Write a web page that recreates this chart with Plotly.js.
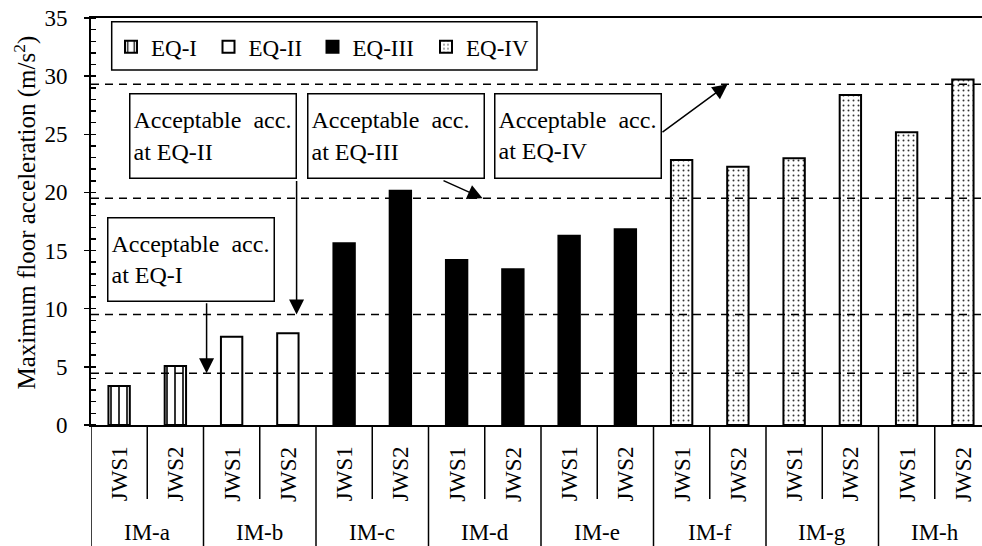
<!DOCTYPE html>
<html><head><meta charset="utf-8">
<script src="https://cdn.plot.ly/plotly-3.0.1.min.js"></script>
<style>html,body{margin:0;padding:0;background:#fff;overflow:hidden}</style>
</head><body><div id="chart" style="width:982px;height:546px"></div>
<script>
// ---- data ----
const groups = ['IM-a','IM-b','IM-c','IM-d','IM-e','IM-f','IM-g','IM-h'];
const subLabels = ['JWS1','JWS2'];
const jws1 = [3.35, 7.59, 15.62, 14.19, 16.28, 22.79, 22.93, 25.17];
const jws2 = [5.07, 7.88, 20.15, 13.39, 16.83, 22.21, 28.37, 29.72];
const groupEQ = ['EQ-I','EQ-II','EQ-III','EQ-III','EQ-III','EQ-IV','EQ-IV','EQ-IV'];
const eqNames = ['EQ-I','EQ-II','EQ-III','EQ-IV'];
const acceptable = [4.45, 9.5, 19.5, 29.3];   // acceptable acc. at EQ-I..IV
const boxLabels = ['Acceptable\u00a0 acc.<br>at EQ-I','Acceptable\u00a0 acc.<br>at EQ-II','Acceptable\u00a0 acc.<br>at EQ-III','Acceptable\u00a0 acc.<br>at EQ-IV'];
const yTitle = 'Maximum floor acceleration (m/s<sup>2</sup>)';

// ---- geometry helpers (pixel layout of the plot area) ----
const W = 982, H = 546;
const M = {l: 91, r: 0, t: 18, b: 121};
const PW = W - M.l - M.r, PH = H - M.t - M.b;
const slot = 56.25;
const xEnd = -0.5 + PW / slot;
const px = v => (v - M.l) / PW;           // pixel x -> paper
const py = v => (H - M.b - v) / PH;       // pixel y -> paper
const FONT = 'Liberation Serif';
const FS = 23;

const styles = {
  'EQ-I':  {color:'white', line:{color:'black', width:2}, pattern:{shape:'|', fgcolor:'black', bgcolor:'white', size:8, solidity:0.2}},
  'EQ-II': {color:'white', line:{color:'black', width:2}},
  'EQ-III':{color:'black', line:{color:'black', width:2}},
  'EQ-IV': {color:'white', line:{color:'black', width:2}, pattern:{shape:'.', fgcolor:'#333', bgcolor:'white', size:5, solidity:0.12}}
};
const legendPos = [134, 231.5, 335.5, 449]; // symbol centres (px)

const traces = eqNames.map((eq, k) => {
  const xs = [], ys = [];
  groups.forEach((g, i) => {
    if (groupEQ[i] === eq) {
      xs.push(2*i, 2*i+1);
      ys.push(jws1[i], jws2[i]);
    }
  });
  return {type:'bar', name:eq, x:xs, y:ys, width:0.38, marker:styles[eq],
          legend: k === 0 ? 'legend' : 'legend' + (k+1), hoverinfo:'skip'};
});
traces.push({type:'scatter', x:[null], y:[null], yaxis:'y2', showlegend:false, hoverinfo:'skip'});

const shapes = [];
// reference dashed lines
acceptable.forEach(v => shapes.push({type:'line', xref:'paper', x0:0, x1:1, yref:'y', y0:v, y1:v,
  line:{color:'black', width:1.5, dash:'8px,6px'}, layer:'above'}));
// category separators
for (let k = 0; k <= groups.length*2; k++) {
  const xv = k - 0.5;
  if (xv > xEnd) break;
  shapes.push({type:'line', xref:'x', x0:xv, x1:xv, yref:'paper', y0:0,
    y1: (k % 2 === 0) ? py(H) : py(499), line:{color:'black', width:1.5}});
}
// legend box
shapes.push({type:'rect', xref:'paper', yref:'paper', x0:px(111.7), x1:px(537), y0:py(21.7), y1:py(70),
  line:{color:'black', width:1.5}, fillcolor:'white', layer:'below'});

const annotations = [];
// sub labels and group labels
groups.forEach((g, i) => {
  subLabels.forEach((s, j) => {
    annotations.push({xref:'x', x:2*i+j, yref:'paper', y:py(474), text:s, showarrow:false,
      textangle:-90, xanchor:'center', yanchor:'middle', font:{family:FONT, size:FS, color:'black'}});
  });
  annotations.push({xref:'x', x:2*i+0.5, yref:'paper', y:py(532), text:g, showarrow:false,
    xanchor:'center', yanchor:'middle', font:{family:FONT, size:FS, color:'black'}});
});
// y title
annotations.push({xref:'paper', yref:'paper', x:px(25), y:py(212.5), text:yTitle, showarrow:false,
  textangle:-90, xanchor:'center', yanchor:'middle', font:{family:FONT, size:25, color:'black'}});
// boxes [left, top, right, bottom] in px
const boxes = [[107.3,216.7,275.7,301.7],[129.3,93.3,297.3,179.3],[306.7,93.3,484.3,179.3],[494,93.3,661.7,179]];
boxes.forEach((b, i) => {
  annotations.push({xref:'paper', yref:'paper', x:px(b[0]), y:py(b[1]), xanchor:'left', yanchor:'top',
    text:boxLabels[i], showarrow:false, align:'left', valign:'middle',
    width:b[2]-b[0]-9, height:b[3]-b[1]-9, bordercolor:'black', borderwidth:1.5, borderpad:3,
    bgcolor:'white', font:{family:FONT, size:24, color:'black'}});
});
// arrows: tip x (data), tip at acceptable level, tail pixel offsets
const arrowTipX = [1.555, 3.155, 6.462, 10.817];
const arrowTail = [[0,-71.6],[0,-135],[-40.6,-18.3],[-66.6,49]];
acceptable.forEach((v, i) => {
  annotations.push({xref:'x', yref:'y', x:arrowTipX[i], y:v, text:'', showarrow:true,
    ax:arrowTail[i][0], ay:arrowTail[i][1], arrowhead:2, arrowsize:2, arrowwidth:1.5, arrowcolor:'black'});
});

const legendBase = {bgcolor:'rgba(0,0,0,0)', borderwidth:0, font:{family:FONT, size:FS, color:'black'},
  xanchor:'left', yanchor:'middle', y:py(46.7), orientation:'h'};

const layout = {
  width:W, height:H, margin:M, paper_bgcolor:'white', plot_bgcolor:'white',
  showlegend:true, bargap:0,
  xaxis:{range:[-0.5, xEnd], showticklabels:false, ticks:'', showgrid:false, zeroline:false,
         showline:true, mirror:true, linecolor:'black', linewidth:2, fixedrange:true},
  yaxis:{range:[0,35], dtick:5, tick0:0, ticks:'outside', ticklen:5, tickwidth:1.5, tickcolor:'black',
         minor:{dtick:1, ticks:'inside', ticklen:5, tickwidth:1.5, tickcolor:'black'},
         showline:true, linecolor:'black', linewidth:2, showgrid:false, zeroline:false,
         tickfont:{family:FONT, size:FS, color:'black'}, ticklabelstandoff:12},
  yaxis2:{range:[0,35], dtick:5, overlaying:'y', side:'left', ticks:'inside', ticklen:5, tickwidth:1.5,
          tickcolor:'black', showticklabels:false, showline:false, showgrid:false, zeroline:false},
  shapes:shapes, annotations:annotations
};
eqNames.forEach((eq, k) => {
  layout[k === 0 ? 'legend' : 'legend' + (k+1)] = Object.assign({}, legendBase, {x: px(legendPos[k] - 23)});
});

Plotly.newPlot('chart', traces, layout, {displayModeBar:false, staticPlot:true});
</script></body></html>
